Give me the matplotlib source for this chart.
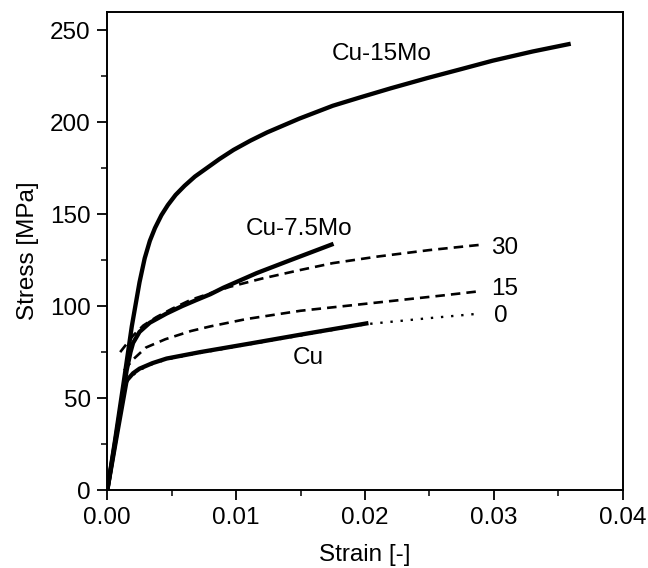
import matplotlib
matplotlib.use("Agg")
import matplotlib.pyplot as plt
from matplotlib.ticker import MultipleLocator

plt.rcParams["font.family"] = ["Liberation Sans", "DejaVu Sans"]

# measured curves (strain, stress in MPa)
cu15_strain = [0, 0.0006, 0.0013, 0.0019, 0.0022, 0.0025, 0.0029, 0.0033, 0.0037,
               0.0042, 0.0047, 0.0053, 0.006, 0.0068, 0.0077, 0.0087, 0.0098,
               0.0111, 0.0124, 0.0149, 0.0175, 0.0196, 0.022, 0.0248, 0.0275,
               0.0299, 0.033, 0.0358]
cu15_stress = [0, 27, 60, 89, 101, 113, 126, 135.5, 142.5,
               149.5, 155, 160.5, 165.5, 170.5, 175, 180, 185,
               190, 194.5, 202, 209, 213.5, 218.5, 224, 229,
               233.5, 238.5, 242.5]

cu75_strain = [0, 0.0007, 0.0015, 0.0018, 0.002, 0.0025, 0.0033, 0.0046, 0.0058,
               0.0069, 0.008, 0.009, 0.0103, 0.0116, 0.0142, 0.0174]
cu75_stress = [0, 30, 65, 75, 80, 86, 91, 96, 100,
               103.3, 106.5, 110, 114, 118, 125, 133.5]

cu_strain = [0, 0.0008, 0.0015, 0.002, 0.0025, 0.0035, 0.0046, 0.0072, 0.0111,
             0.015, 0.0201]
cu_stress = [0, 32, 59.5, 63.5, 66, 69, 71.5, 75, 79.7, 84.5, 90.6]

# model curves, labelled by Mo content
m30_strain = [0.001, 0.002, 0.0028, 0.0038, 0.005, 0.0065, 0.008, 0.0095, 0.012,
              0.015, 0.0175, 0.021, 0.025, 0.029]
m30_stress = [75, 84, 89.5, 94, 98.5, 103.5, 107, 110.5, 115,
              119.7, 123.4, 127, 130.5, 133.4]

m15_strain = [0.0013, 0.002, 0.003, 0.0045, 0.0065, 0.008, 0.0108, 0.015, 0.019,
              0.0227, 0.026, 0.029]
m15_stress = [65, 71, 77.5, 82, 86.5, 89, 93, 97.5, 100.5, 103.3, 105.8, 108.2]

m0_strain = [0.0015, 0.002, 0.0025, 0.0035, 0.0046, 0.0072, 0.0111, 0.015, 0.0201,
             0.025, 0.029]
m0_stress = [58.5, 62.5, 65.3, 68.5, 71, 74.5, 79.3, 84, 90.2, 93.5, 96]

fig = plt.figure(figsize=(6.48, 5.68), dpi=100)
ax = fig.add_axes([0.1656, 0.1373, 0.7954, 0.8416])

dash = (0, (3.6, 2.3))
ax.plot(m30_strain, m30_stress, color="black", lw=1.9, ls=dash)
ax.plot(m15_strain, m15_stress, color="black", lw=1.9, ls=dash)
ax.plot(cu15_strain, cu15_stress, color="black", lw=3.1, solid_joinstyle="round")
ax.plot(cu75_strain, cu75_stress, color="black", lw=3.1, solid_joinstyle="round")
ax.plot(cu_strain, cu_stress, color="black", lw=3.1, solid_joinstyle="round")
ax.plot(m0_strain, m0_stress, color="black", lw=1.7, ls=(0, (1, 3.3)))

fs = 17.5
ax.text(0.02133, 237, "Cu-15Mo", fontsize=fs, ha="center", va="center")
ax.text(0.01486, 142, "Cu-7.5Mo", fontsize=fs, ha="center", va="center")
ax.text(0.01556, 72, "Cu", fontsize=fs, ha="center", va="center")
ax.text(0.0298, 131.5, "30", fontsize=fs, ha="left", va="center")
ax.text(0.0298, 109.5, "15", fontsize=fs, ha="left", va="center")
ax.text(0.0300, 94.5, "0", fontsize=fs, ha="left", va="center")

ax.set_xlim(0, 0.04)
ax.set_ylim(0, 260)
ax.xaxis.set_major_locator(MultipleLocator(0.01))
ax.xaxis.set_minor_locator(MultipleLocator(0.005))
ax.yaxis.set_major_locator(MultipleLocator(50))
ax.yaxis.set_minor_locator(MultipleLocator(25))
ax.xaxis.set_major_formatter(plt.FuncFormatter(lambda v, p: f"{v:.2f}"))

ax.tick_params(which="major", direction="out", length=7, width=1.3,
               labelsize=fs, pad=5)
ax.tick_params(which="minor", direction="out", length=4, width=1.1)
for s in ax.spines.values():
    s.set_linewidth(1.4)

ax.set_xlabel("Strain [-]", fontsize=fs, labelpad=11)
ax.set_ylabel("Stress [MPa]", fontsize=fs, labelpad=8)

fig.savefig("out.png", dpi=100)
